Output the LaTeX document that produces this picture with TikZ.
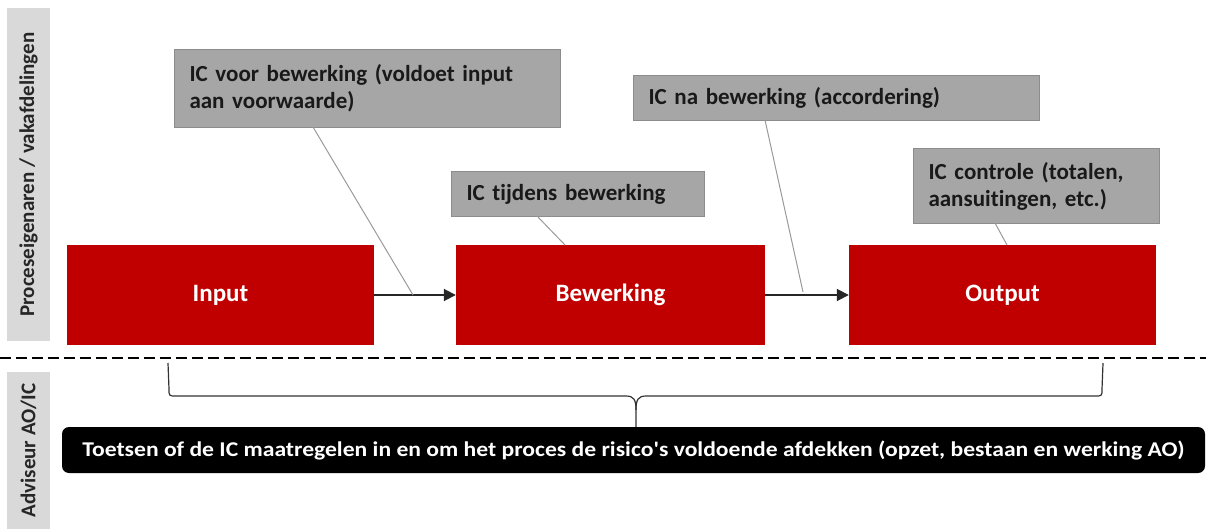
\documentclass[tikz,border=0pt]{standalone}
\usepackage{fontspec}
\setmainfont{Carlito}[Ligatures={NoCommon}]
\usetikzlibrary{arrows.meta,calc}
\definecolor{icred}{HTML}{C00000}
\definecolor{callgray}{HTML}{A6A6A6}
\definecolor{callborder}{HTML}{8C8C8C}
\definecolor{labgray}{HTML}{D9D9D9}
\definecolor{lineg}{HTML}{9A9A9A}
\tikzset{
  lanelab/.style={fill=labgray, draw=none, inner sep=0pt, rotate=90, font=\fontsize{21}{24}\selectfont\bfseries, text=black!85},
  procbox/.style={fill=icred, draw=none, inner sep=0pt, text=white, font=\fontsize{25}{28}\selectfont\bfseries},
  callout/.style={fill=callgray, draw=callborder, line width=1pt, anchor=north west, inner xsep=15pt, inner ysep=0pt, align=left, text=black!90, font=\fontsize{23}{27}\selectfont\bfseries},
  callline/.style={draw=lineg, line width=1pt},
  flowarrow/.style={draw=black!85, line width=1.8pt, -{Triangle[length=12pt,width=12pt]}},
  bracel/.style={draw=black!80, line width=1.2pt},
  sepline/.style={draw=black, line width=2.6pt, dash pattern=on 11pt off 5pt},
}
\begin{document}
\begin{tikzpicture}[x=1pt,y=-1pt]
\useasboundingbox (0,0) rectangle (1206,529);
% lane labels
\node[lanelab, minimum width=333pt, minimum height=43pt] (lane1) at (28.5,174.5) {Proceseigenaren / vakafdelingen};
\node[lanelab, minimum width=157pt, minimum height=43pt] (lane2) at (28.5,450.5) {Adviseur AO/IC};
% separator
\coordinate (sepL) at (0,358);
\coordinate (sepR) at (1206,358);
\draw[sepline] (sepL) -- (sepR);
% process boxes
\node[procbox, minimum width=307pt, minimum height=100pt] (inp) at (220.5,295) {Input};
\node[procbox, minimum width=309pt, minimum height=100pt] (bew) at (610.5,295) {Bewerking};
\node[procbox, minimum width=307pt, minimum height=100pt] (out) at (1002.5,295) {Output};
\draw[flowarrow] (inp.east) -- (bew.west);
\draw[flowarrow] (bew.east) -- (out.west);
% callouts
\node[callout, minimum width=386pt, minimum height=78pt, text width=356pt] (c1) at (174,49) {IC voor bewerking (voldoet input\\aan voorwaarde)};
\node[callout, minimum width=253pt, minimum height=45pt, text width=223pt] (c2) at (451,171) {IC tijdens bewerking};
\node[callout, minimum width=406pt, minimum height=45pt, text width=376pt] (c3) at (633,75) {IC na bewerking (accordering)};
\node[callout, minimum width=246pt, minimum height=75pt, text width=216pt] (c4) at (913,148) {IC controle (totalen,\\aansuitingen, etc.)};
% callout connectors
\coordinate (c1p) at (313,127);
\coordinate (a1p) at (413,295);
\coordinate (c2p) at (537,216);
\coordinate (b2p) at (565,245);
\coordinate (c3p) at (765,120);
\coordinate (a3p) at (803,292);
\coordinate (c4p) at (995,223);
\coordinate (o4p) at (1007,245);
\draw[callline] (c1p) -- (a1p);
\draw[callline] (c2p) -- (b2p);
\draw[callline] (c3p) -- (a3p);
\draw[callline] (c4p) -- (o4p);
% brace
\coordinate (brL) at (168,363);
\coordinate (brR) at (1103,363);
\coordinate (brM) at (636,427);
\draw[bracel] (brL) -- (169,389) .. controls (169,396) .. (176,396) -- (626,396) .. controls (634,396) and (636,400) .. (636,410) -- (brM);
\draw[bracel] (brR) -- (1102,389) .. controls (1102,396) .. (1095,396) -- (646,396) .. controls (638,396) and (636,400) .. (636,410);
% bottom box
\node[fill=black, rounded corners=7pt, minimum width=1143pt, minimum height=46pt, inner sep=0pt, text=white, font=\fontsize{21}{24}\selectfont\bfseries] (adv) at (633.5,450) {\scalebox{1.125}[1]{Toetsen of de IC maatregelen in en om het proces de risico\textquotesingle s voldoende afdekken (opzet, bestaan en werking AO)}};
\end{tikzpicture}
\end{document}
